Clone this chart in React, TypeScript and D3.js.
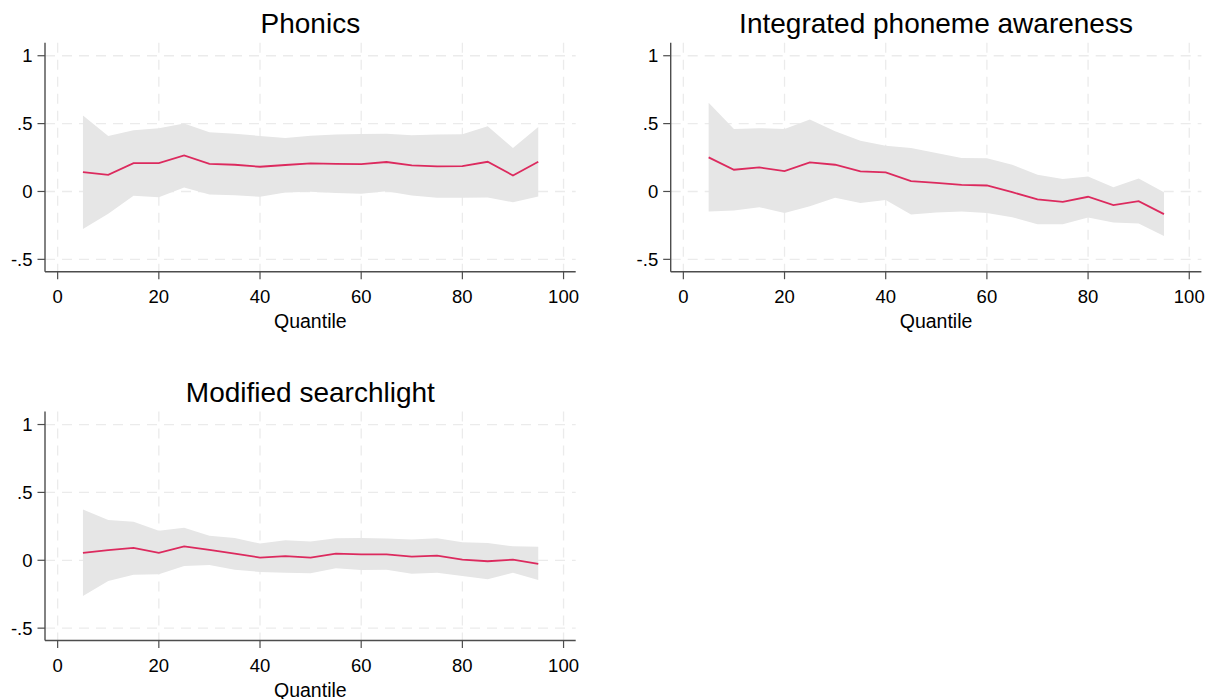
import React from "react";
import * as d3 from "d3";

// Quantiles at which the coefficients were estimated
const quantiles = [5, 10, 15, 20, 25, 30, 35, 40, 45, 50, 55, 60, 65, 70, 75, 80, 85, 90, 95];

// Phonics
const phonicsCoef = [0.143, 0.123, 0.209, 0.209, 0.266, 0.204, 0.197, 0.182, 0.195, 0.207, 0.204, 0.202, 0.217, 0.192, 0.185, 0.187, 0.219, 0.118, 0.219];
const phonicsUpper = [0.559, 0.409, 0.451, 0.466, 0.5, 0.436, 0.426, 0.409, 0.394, 0.411, 0.419, 0.424, 0.426, 0.414, 0.419, 0.421, 0.48, 0.32, 0.475];
const phonicsLower = [-0.276, -0.165, -0.032, -0.042, 0.03, -0.022, -0.027, -0.039, -0.007, -0.002, -0.012, -0.017, 0.002, -0.03, -0.047, -0.047, -0.044, -0.079, -0.037];

// Integrated phoneme awareness
const ipaCoef = [0.251, 0.16, 0.177, 0.15, 0.214, 0.197, 0.148, 0.14, 0.076, 0.064, 0.049, 0.044, -0.005, -0.059, -0.076, -0.039, -0.101, -0.071, -0.167];
const ipaUpper = [0.653, 0.461, 0.466, 0.461, 0.53, 0.443, 0.374, 0.337, 0.32, 0.283, 0.246, 0.244, 0.197, 0.123, 0.091, 0.111, 0.032, 0.096, -0.005];
const ipaLower = [-0.148, -0.14, -0.116, -0.158, -0.108, -0.047, -0.084, -0.062, -0.17, -0.155, -0.148, -0.158, -0.19, -0.241, -0.241, -0.192, -0.229, -0.236, -0.328];

// Modified searchlight
const msCoef = [0.054, 0.074, 0.091, 0.054, 0.103, 0.076, 0.049, 0.02, 0.03, 0.02, 0.049, 0.044, 0.044, 0.027, 0.034, 0.005, -0.007, 0.005, -0.027];
const msUpper = [0.374, 0.296, 0.283, 0.217, 0.239, 0.18, 0.165, 0.123, 0.148, 0.138, 0.163, 0.165, 0.16, 0.153, 0.163, 0.133, 0.128, 0.103, 0.099];
const msLower = [-0.264, -0.153, -0.106, -0.103, -0.042, -0.034, -0.069, -0.086, -0.091, -0.096, -0.059, -0.071, -0.069, -0.099, -0.091, -0.116, -0.14, -0.091, -0.145];

const xTicks = [0, 20, 40, 60, 80, 100];
const yTicks = [-0.5, 0, 0.5, 1];
const yTickLabels = ["-.5", "0", ".5", "1"];

const panels = [
  { title: "Phonics", coef: phonicsCoef, upper: phonicsUpper, lower: phonicsLower, left: 45, top: 42.7 },
  { title: "Integrated phoneme awareness", coef: ipaCoef, upper: ipaUpper, lower: ipaLower, left: 670.7, top: 42.7 },
  { title: "Modified searchlight", coef: msCoef, upper: msUpper, lower: msLower, left: 45, top: 411.5 },
];

const PLOT_W = 530.7;
const PLOT_H = 229;
const FONT = "'Liberation Sans', Arial, sans-serif";
const LINE_COLOR = "#dc2a5e";
const BAND_COLOR = "#e6e6e6";
const GRID_COLOR = "#ebebeb";
const AXIS_COLOR = "#4d4d4d";

type PanelProps = {
  title: string;
  coef: number[];
  upper: number[];
  lower: number[];
  left: number;
  top: number;
};

function Panel({ title, coef, upper, lower, left, top }: PanelProps) {
  const x = d3.scaleLinear().domain([-2.5, 102.4]).range([0, PLOT_W]);
  const y = d3.scaleLinear().domain([-0.591, 1.096]).range([PLOT_H, 0]);

  const rows = quantiles.map((q, i) => ({ q, c: coef[i], hi: upper[i], lo: lower[i] }));
  const area = d3
    .area<(typeof rows)[number]>()
    .x((d) => x(d.q))
    .y0((d) => y(d.lo))
    .y1((d) => y(d.hi));
  const line = d3
    .line<(typeof rows)[number]>()
    .x((d) => x(d.q))
    .y((d) => y(d.c));

  return (
    <g transform={`translate(${left},${top})`}>
      <text x={PLOT_W / 2} y={-9.7} textAnchor="middle" fontSize={28} fontFamily={FONT} fill="#000">
        {title}
      </text>
      {/* grid */}
      {xTicks.map((t) => (
        <line key={`gx${t}`} x1={x(t)} x2={x(t)} y1={0} y2={PLOT_H} stroke={GRID_COLOR} strokeWidth={1.3} strokeDasharray="10,7" />
      ))}
      {yTicks.map((t) => (
        <line key={`gy${t}`} x1={0} x2={PLOT_W} y1={y(t)} y2={y(t)} stroke={GRID_COLOR} strokeWidth={1.3} strokeDasharray="10,7" />
      ))}
      {/* confidence band and estimate */}
      <path d={area(rows) ?? ""} fill={BAND_COLOR} stroke="none" />
      <path d={line(rows) ?? ""} fill="none" stroke={LINE_COLOR} strokeWidth={1.8} />
      {/* axes */}
      <line x1={0} x2={0} y1={0} y2={PLOT_H} stroke={AXIS_COLOR} strokeWidth={1.4} />
      <line x1={0} x2={PLOT_W} y1={PLOT_H} y2={PLOT_H} stroke={AXIS_COLOR} strokeWidth={1.4} />
      {yTicks.map((t, i) => (
        <g key={`yt${t}`}>
          <line x1={-7.5} x2={0} y1={y(t)} y2={y(t)} stroke={AXIS_COLOR} strokeWidth={1.2} />
          <text x={-12.5} y={y(t)} dy="0.36em" textAnchor="end" fontSize={18.5} fontFamily={FONT} fill="#000">
            {yTickLabels[i]}
          </text>
        </g>
      ))}
      {xTicks.map((t) => (
        <g key={`xt${t}`}>
          <line x1={x(t)} x2={x(t)} y1={PLOT_H} y2={PLOT_H + 7.5} stroke={AXIS_COLOR} strokeWidth={1.2} />
          <text x={x(t)} y={PLOT_H + 31} textAnchor="middle" fontSize={18.5} fontFamily={FONT} fill="#000">
            {t}
          </text>
        </g>
      ))}
      <text x={PLOT_W / 2} y={PLOT_H + 56} textAnchor="middle" fontSize={19.5} fontFamily={FONT} fill="#000">
        Quantile
      </text>
    </g>
  );
}

export default function App() {
  return (
    <svg width={1213} height={699} style={{ position: "absolute", left: 0, top: 0, background: "#fff" }}>
      <rect width={1213} height={699} fill="#fff" />
      {panels.map((p) => (
        <Panel key={p.title} {...p} />
      ))}
    </svg>
  );
}
